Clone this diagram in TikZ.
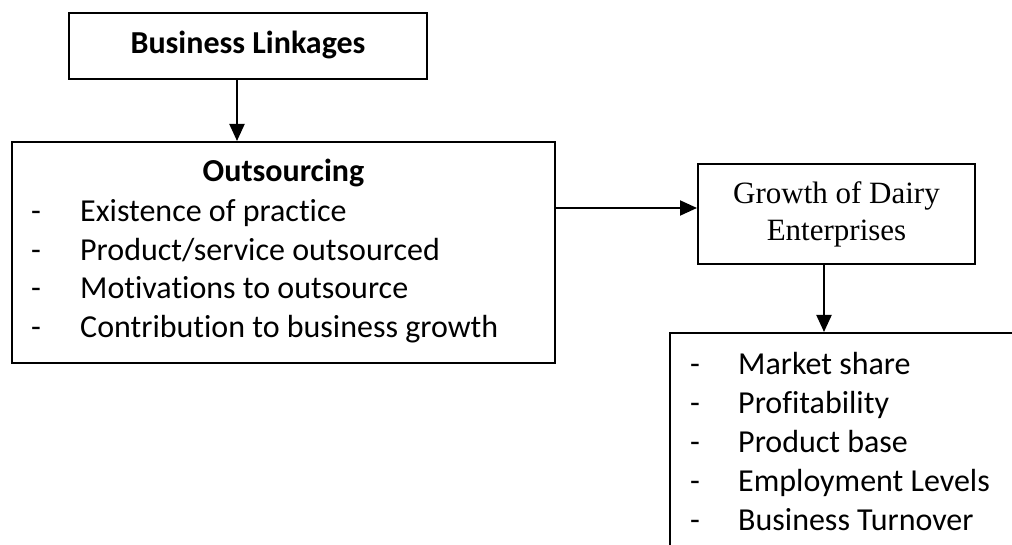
\documentclass[tikz,border=0pt]{standalone}
\usepackage{fontspec}
\setmainfont{Carlito}[Ligatures=NoCommon]
\newfontfamily\timesface{Liberation Serif}
\usetikzlibrary{arrows.meta}

\begin{document}
\begin{tikzpicture}[x=1pt, y=1pt,
    box/.style={draw, line width=2pt, inner sep=0pt},
    link/.style={line width=2pt, -{Triangle[length=17pt, width=15pt]}},
    head/.style={anchor=base, font=\fontsize{32}{38}\selectfont\bfseries},
    item/.style={anchor=base west, inner sep=0pt, font=\fontsize{32}{38}\selectfont}]
    \useasboundingbox (0,0) rectangle (1012,544);
    \clip (0,0) rectangle (1012,544);

    % Business linkages
    \node[box, minimum width=358pt, minimum height=66pt] (links) at (248,498) {};
    \node[head] (linkstitle) at (248,490) {Business Linkages};

    % Outsourcing and its indicators
    \node[box, minimum width=543pt, minimum height=221pt] (outs) at (283.5,291.5) {};
    \node[head] (outstitle) at (283.5,362) {Outsourcing};
    \foreach \txt [count=\i] in {Existence of practice, Product/service outsourced,
        Motivations to outsource, Contribution to business growth} {
        \node[item] (outsdash\i) at (31, 322-38.5*\i+38.5) {-};
        \node[item] (outsitem\i) at (80, 322-38.5*\i+38.5) {\txt};
    }

    % Growth of dairy enterprises
    \node[box, minimum width=277pt, minimum height=100pt, align=center,
        font=\timesface\fontsize{31}{37}\selectfont] (growth) at (836.5,330)
        {Growth of Dairy\\Enterprises};

    % Growth measures
    \node[box, minimum width=360pt, minimum height=231pt] (measures) at (850,95.5) {};
    \foreach \txt [count=\i] in {Market share, Profitability, Product base,
        Employment Levels, Business Turnover} {
        \node[item] (measdash\i) at (690, 169-38.75*\i+38.75) {-};
        \node[item] (measitem\i) at (738, 169-38.75*\i+38.75) {\txt};
    }

    % Links
    \coordinate (growthin) at ([yshift=6pt]growth.west);
    \coordinate (growthout) at ([xshift=-12.5pt]growth.south);
    \draw[link] ([xshift=-11pt]links.south) -- ([xshift=-11pt]links.south |- outs.north);
    \draw[link] (growthin -| outs.east) -- (growthin);
    \draw[link] (growthout) -- (growthout |- measures.north);
\end{tikzpicture}
\end{document}
